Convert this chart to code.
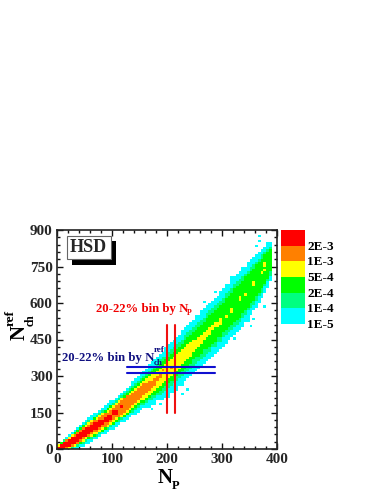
import numpy as np, pandas as pd, matplotlib
matplotlib.use("Agg")
import matplotlib.pyplot as plt, seaborn as sns
from matplotlib.colors import ListedColormap
from matplotlib.patches import Rectangle
from matplotlib.ticker import MultipleLocator

ridge = [3,8,14,20,25, 32,39,47,54,62, 70,77,84,91,97, 104,112,120,128,136,
         144,153,161,170,178, 187,196,206,215,225, 234,243,251,260,268, 277,286,295,303,312,
         322,333,343,354,365, 376,387,399,410,422, 432,443,453,464,475, 485,496,507,518,529,
         540,552,565,577,590, 600,612,625,638,650, 663,677,691,705,720, 738,755,773]
cyan = [20,24,27,30,33, 36,39,42,45,48, 50,52,53,55,54, 56,55,57,58,60,
        60,58,62,60,64, 62,66,68,72,72, 78,76,82,85,88, 92,90,96,100,106,
        108,104,108,110,106, 112,108,112,114,110, 114,110,116,112,114, 116,112,116,114,118,
        115,118,112,120,116, 116,118,120,114,118, 114,108,110,102,100, 96,90,80]
spring = [16,19,21,24,26, 28,30,33,36,38, 38,40,40,41,42, 42,43,43,44,44,
          45,46,46,48,48, 50,50,52,52,54, 56,58,60,64,66, 66,68,70,72,72,
          74,74,76,76,76, 76,78,76,78,78, 78,78,80,80,80, 80,80,82,82,84,
          84,84,84,86,86, 86,88,86,84,84, 82,82,80,78,76, 72,68,58]
green = [14,17,19,21,23, 25,27,29,31,33, 34,35,36,36,37, 38,38,38,39,39,
         40,41,41,42,43, 44,44,45,46,46, 48,50,50,52,52, 54,54,56,56,56,
         56,56,58,56,56, 56,58,56,58,56, 56,58,60,58,60, 60,62,62,62,64,
         64,64,66,66,66, 66,68,68,68,68, 66,64,64,62,60, 58,54,44]
yellow = [12,15,17,19,21, 23,25,26,27,29, 30,30,31,31,32, 32,33,33,33,34,
          34,35,35,36,36, 36,37,37,38,38, 38,38,38,38,38, 36,36,36,35,34,
          34,33,32,31,30, 30,28,26,25,24, 22,20,18,14,12, 10,10,8,0,6,
          0,0,0,0,0, 0,0,0,0,0, 0,0,0,0,0, 0,0,0]
orange = [10,12,14,16,18, 19,20,22,23,24, 24,25,25,25,25, 25,26,26,26,26,
          27,27,27,28,28, 28,28,28,27,27, 26,24,22,20,16, 14,10,6,0,0,
          0,0,0,0,0, 0,0,0,0,0, 0,0,0,0,0, 0,0,0,0,0,
          0,0,0,0,0, 0,0,0,0,0, 0,0,0,0,0, 0,0,0]
red = [8,10,11,12,13, 14,15,15,16,16, 15,15,14,14,13, 12,12,10,8,8,
       6,5,0,0,0, 0,0,0,0,0, 0,0,0,0,0, 0,0,0,0,0,
       0,0,0,0,0, 0,0,0,0,0, 0,0,0,0,0, 0,0,0,0,0,
       0,0,0,0,0, 0,0,0,0,0, 0,0,0,0,0, 0,0,0]

cyan_np = [369,362,345,330,308,378,357,345,324,266,297,236,187,139,285,316,338,250,226,172,152,350,368]
cyan_nch = [859,838,768,718,672,587,530,522,452,600,633,247,189,271,640,700,745,545,225,160,295,500,870]
yellow_np = [378,378,375,370,357,357,344,334,334,317,317,307,298,293,293]
yellow_nch = [756,766,731,725,678,688,637,612,622,563,573,542,518,501,511]
orange_np = [192,186,180,205,172]
orange_nch = [320,305,295,335,275]
red_np = [105,90,95,118,100]
red_nch = [140,115,125,175,150]

level_colors = ["#00ffff", "#00ff80", "#00ff00", "#ffff00", "#ff8000", "#ff0000"]
legend_labels = ["2E-3", "1E-3", "5E-4", "2E-4", "1E-4", "1E-5"]
np_lines = [200, 214]
np_line_span = [150, 510]
nch_lines = [311, 335]
nch_line_span = [128, 287]

sns.set_style("ticks")
plt.rcParams["font.family"] = ["Liberation Serif", "DejaVu Serif"]
plt.rcParams["font.weight"] = "bold"

W, H = 382, 494
fig = plt.figure(figsize=(W / 100, H / 100), dpi=100)
L, R, T, B = 57, 277, 230, 449
ax = fig.add_axes([L / W, 1 - B / H, (R - L) / W, (B - T) / H])

def px(x, y):
    return x / W, 1 - y / H

# Build the cell table from the per-column bounds
rows = []
widths = [cyan, spring, green, yellow, orange, red]
for i, c in enumerate(ridge):
    x = 2.5 + 5 * i
    for j in range(90):
        y = 5 + 10 * j
        lev = 0
        for k, w in enumerate(widths):
            if w[i] > 0 and abs(y - c) <= w[i]:
                lev = k + 1
        if lev:
            rows.append((x, y, lev))
df = pd.DataFrame(rows, columns=["np", "nch", "level"])
def snap(v, s):
    return (int(v // s) + 0.5) * s
def force(xs, ys, lev):
    for a, b in zip(xs, ys):
        a, b = snap(a, 5), snap(b, 10)
        m = (df.np == a) & (df.nch == b)
        if m.any():
            df.loc[m, "level"] = np.maximum(df.loc[m, "level"], lev)
        else:
            df.loc[len(df)] = [a, b, lev]
force(cyan_np, cyan_nch, 1)
force(yellow_np, yellow_nch, 4)
force(orange_np, orange_nch, 5)
force(red_np, red_nch, 6)

sns.histplot(data=df, x="np", y="nch", weights="level", bins=[78, 90],
             binrange=[(0, 390), (0, 900)], cmap=ListedColormap(level_colors),
             vmin=0.5, vmax=6.5, cbar=False, ax=ax)

for x in np_lines:
    ax.plot([x, x], np_line_span, color="#f01010", lw=1.5, zorder=4)
for y in nch_lines:
    ax.plot(nch_line_span, [y, y], color="#1010d0", lw=1.5, zorder=5)

ax.set_xlim(0, 400)
ax.set_ylim(0, 900)
ax.set_xlabel("")
ax.set_ylabel("")
ax.set_xticks([0, 100, 200, 300, 400])
ax.set_yticks([0, 150, 300, 450, 600, 750, 900])
ax.xaxis.set_minor_locator(MultipleLocator(20))
ax.yaxis.set_minor_locator(MultipleLocator(30))
ax.tick_params(which="major", direction="in", length=4.5, width=1.0, top=True, right=True,
               labelsize=11, pad=3, color="#111111")
ax.tick_params(which="minor", direction="in", length=2.2, width=1.0, top=True, right=True,
               color="#111111")
for lab in ax.get_xticklabels() + ax.get_yticklabels():
    lab.set_fontweight("bold")
for s in ax.spines.values():
    s.set_visible(True)
    s.set_linewidth(1.2)
    s.set_color("#222222")

# HSD label with shadow
fig.add_artist(Rectangle(px(72, 265), 44 / W, 24 / H, transform=fig.transFigure, fc="black", ec="none", zorder=6))
fig.add_artist(Rectangle(px(66.5, 259), 44 / W, 23 / H, transform=fig.transFigure, fc="white", ec="#666666", lw=0.8, zorder=7))
fig.text(*px(88.5, 248), "HSD", fontsize=13, fontweight="bold", ha="center", va="center", zorder=8)

def t(x, y, s, size, color="black", **kw):
    kw.setdefault("va", "baseline")
    fig.text(*px(x, y), s, fontsize=size, color=color, fontweight="bold", zorder=8, **kw)

RED, NAVY = "#f00000", "#101080"
t(96, 312, "20-22% bin by N", 9.2, RED)
t(187, 315, "P", 5.5, RED)
t(62.5, 361, "20-22% bin by N", 9.2, NAVY)
t(154, 352, "ref", 6.5, NAVY)
t(154, 365, "ch", 6.5, NAVY)

t(158, 483, "N", 15)
t(172, 489, "P", 9)
t(10, 340, "N", 15, rotation=90, va="bottom", ha="left")
t(5, 326, "ref", 9.5, rotation=90, va="bottom", ha="left")
t(24.5, 326, "ch", 8.5, rotation=90, va="bottom", ha="left")

# Legend blocks
cax = fig.add_axes([281 / W, 1 - 324 / H, 23.5 / W, 94 / H])
sns.heatmap(pd.DataFrame({"v": [6, 5, 4, 3, 2, 1]}), cmap=ListedColormap(level_colors), vmin=0.5, vmax=6.5,
            cbar=False, xticklabels=False, yticklabels=False, ax=cax)
cax.set_xlabel("")
cax.set_ylabel("")
for i, s in enumerate(legend_labels):
    yy = 246.7 + i * 15.7
    t(307.5, yy, s, 9.5, va="center")

fig.savefig("out.png", dpi=100)
